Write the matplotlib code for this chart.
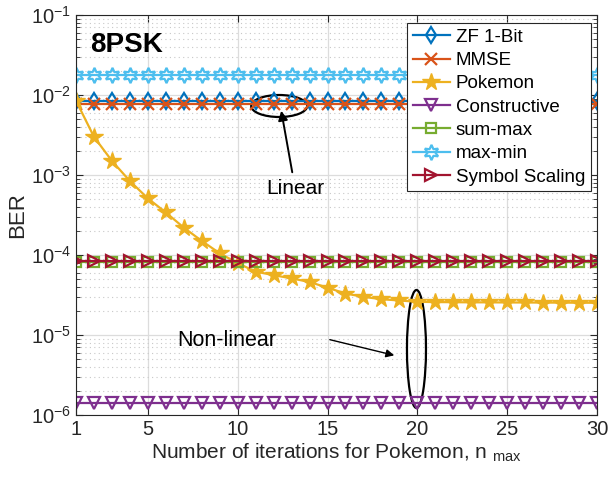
import numpy as np
import matplotlib
matplotlib.use('Agg')
import matplotlib.pyplot as plt
from matplotlib.patches import Ellipse
from matplotlib.ticker import FixedLocator, LogLocator, NullFormatter

plt.rcParams['font.family'] = ['Liberation Sans', 'DejaVu Sans']
plt.rcParams['mathtext.fontset'] = 'custom'
plt.rcParams['mathtext.rm'] = 'Liberation Sans'
plt.rcParams['mathtext.it'] = 'Liberation Sans:italic'
plt.rcParams['mathtext.bf'] = 'Liberation Sans:bold'

# datos
n_iter = np.arange(1, 31)
zf_1bit = [8.3e-3] * 30
mmse = [7.7e-3] * 30
max_min = [1.78e-2] * 30
sum_max = [8.1e-5] * 30
symbol_scaling = [8.4e-5] * 30
constructive = [1.4e-6] * 30
pokemon = [8.5e-3, 3.0e-3, 1.5e-3, 8.4e-4, 5.1e-4, 3.4e-4, 2.2e-4, 1.5e-4, 1.05e-4, 7.9e-5,
           6.2e-5, 5.6e-5, 5.1e-5, 4.6e-5, 3.9e-5, 3.3e-5, 3.0e-5, 2.8e-5, 2.7e-5, 2.6e-5,
           2.58e-5, 2.57e-5, 2.56e-5, 2.56e-5, 2.55e-5, 2.55e-5, 2.54e-5, 2.54e-5, 2.53e-5, 2.53e-5]

fig = plt.figure(figsize=(6.09, 4.78), dpi=100)
ax = fig.add_axes([76/609, 1 - 415/478, 521/609, 400/478])

lw = 1.6
ms = 8
ax.plot(n_iter, zf_1bit, color='#0072BD', marker='d', mfc='none', mew=1.6, ms=ms, lw=lw, label='ZF 1-Bit')
ax.plot(n_iter, mmse, color='#D95319', marker='x', mew=1.6, ms=ms, lw=lw, label='MMSE')
ax.plot(n_iter, pokemon, color='#EDB120', marker='*', ms=13, lw=lw, label='Pokemon')
ax.plot(n_iter, constructive, color='#7E2F8E', marker='v', mfc='none', mew=1.6, ms=ms, lw=lw, label='Constructive')
ax.plot(n_iter, sum_max, color='#77AC30', marker='s', mfc='none', mew=1.6, ms=7, lw=lw, label='sum-max')
ax.plot(n_iter, max_min, color='#4DBEEE', marker=(6, 1, 0), mfc='none', mew=1.6, ms=11, lw=lw, label='max-min')
ax.plot(n_iter, symbol_scaling, color='#A2142F', marker='>', mfc='none', mew=1.6, ms=ms, lw=lw, label='Symbol Scaling')

ax.set_yscale('log')
ax.set_ylim(1e-6, 1e-1)
ax.set_xlim(1, 30)
ax.set_xticks([1, 5, 10, 15, 20, 25, 30])
ax.xaxis.set_minor_locator(FixedLocator(np.arange(1, 31)))
ax.yaxis.set_major_locator(LogLocator(base=10, numticks=10))
ax.yaxis.set_minor_locator(LogLocator(base=10, subs=np.arange(2, 10), numticks=20))
ax.yaxis.set_minor_formatter(NullFormatter())

ax.grid(True, which='major', color='#dcdcdc', lw=0.9, ls='-')
ax.grid(True, which='minor', axis='y', color='#c8c8c8', lw=0.8, ls=(0, (1, 3)))
ax.set_axisbelow(True)
ax.tick_params(which='both', direction='in', top=True, right=True, labelsize=14.5, colors='#262626')
ax.tick_params(which='major', length=5)
ax.tick_params(which='minor', axis='y', length=3)
ax.tick_params(which='minor', axis='x', length=0)
for s in ax.spines.values():
    s.set_color('#262626')
    s.set_linewidth(0.8)

ax.set_xlabel(r'Number of iterations for Pokemon, n $_{\rm max}$', fontsize=15, color='#262626', labelpad=2)
ax.set_ylabel('BER', fontsize=16, color='#262626', labelpad=2)

ax.text(0.027, 0.925, '8PSK', transform=ax.transAxes, fontsize=20, fontweight='bold', va='center')

# anotaciones
ax.add_patch(Ellipse((0.390, 0.7725), 0.1075, 0.055, transform=ax.transAxes,
                     fill=False, ec='black', lw=1.6))
ax.annotate('', xy=(0.393, 0.7675), xytext=(0.416, 0.6), xycoords='axes fraction',
            arrowprops=dict(arrowstyle='-|>', color='black', lw=1.4, mutation_scale=14))
ax.text(0.42, 0.565, 'Linear', transform=ax.transAxes, fontsize=15, ha='center', va='center')

ax.add_patch(Ellipse((0.6535, 0.165), 0.0365, 0.295, transform=ax.transAxes,
                     fill=False, ec='black', lw=1.6))
ax.annotate('', xy=(0.616, 0.1475), xytext=(0.482, 0.19), xycoords='axes fraction',
            arrowprops=dict(arrowstyle='-|>', color='black', lw=1.0, mutation_scale=12))
ax.text(0.289, 0.185, 'Non-linear', transform=ax.transAxes, fontsize=15.5, ha='center', va='center')

leg = ax.legend(loc='upper right', bbox_to_anchor=(0.988, 0.98), fontsize=13.5, handlelength=2.0,
                labelspacing=0.33, borderpad=0.3, handletextpad=0.3, fancybox=False,
                framealpha=1, edgecolor='#262626', borderaxespad=0)
leg.get_frame().set_linewidth(0.8)

fig.savefig('out.png', dpi=100)
